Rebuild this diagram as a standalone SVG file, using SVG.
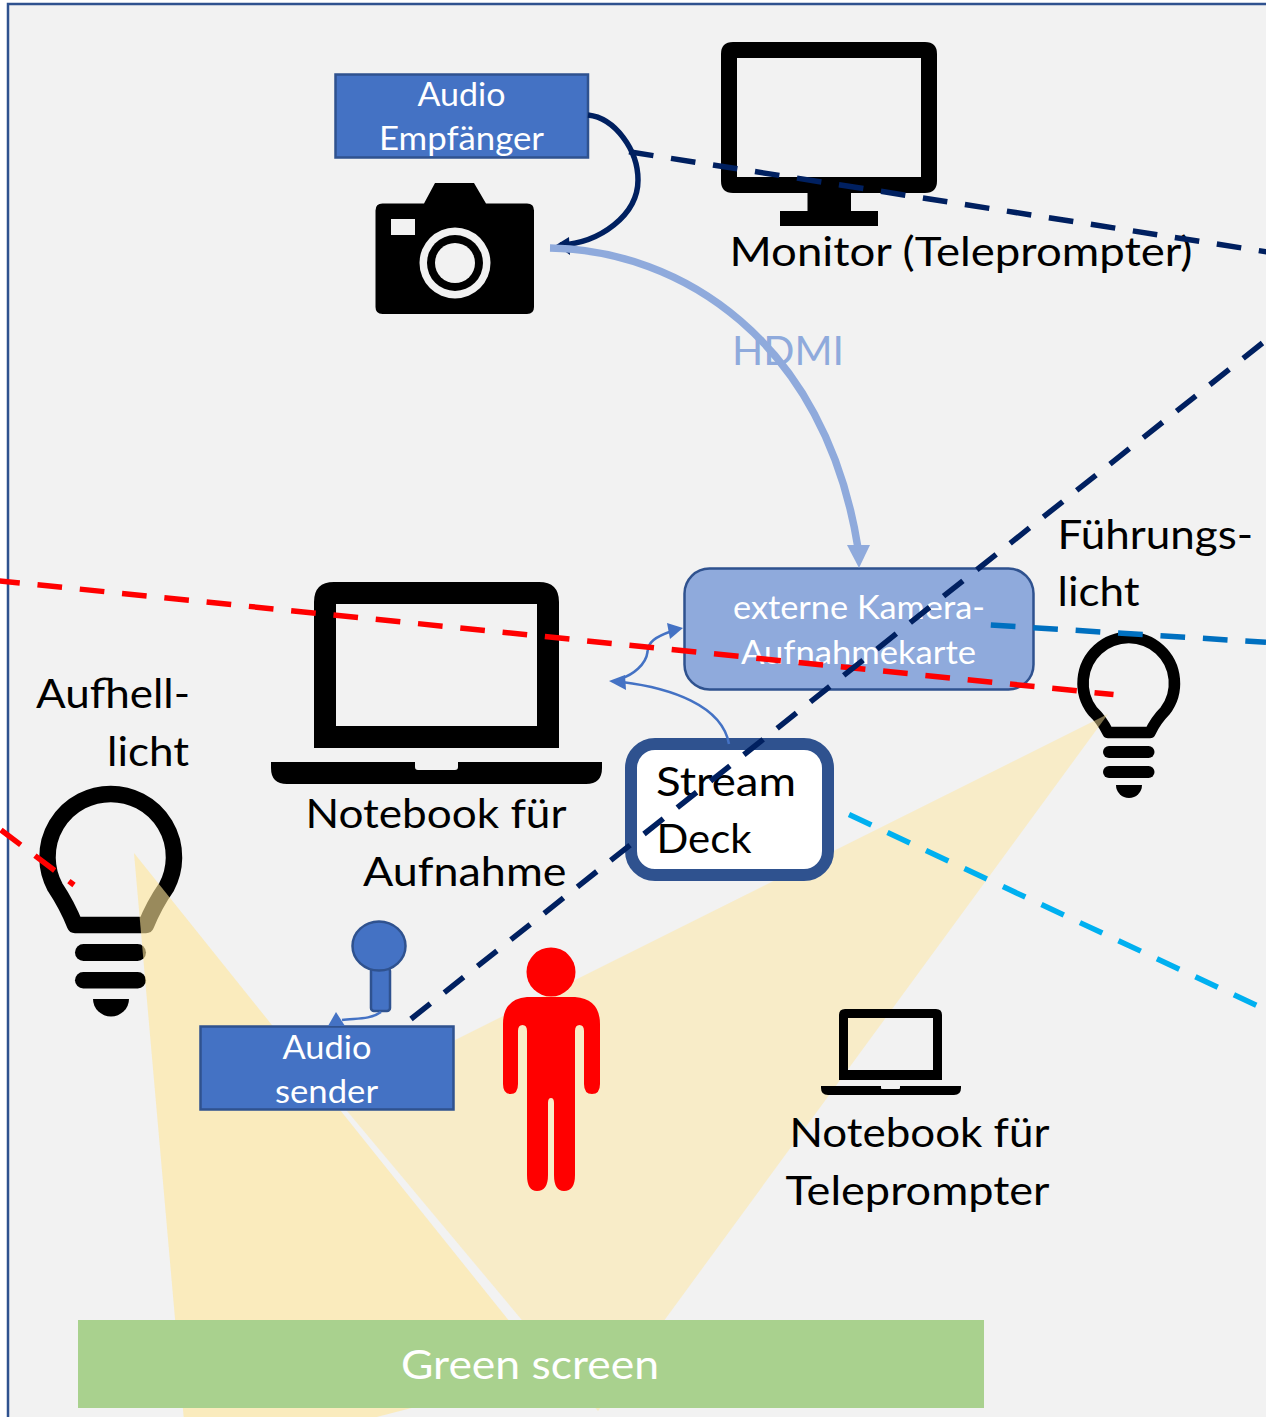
<svg xmlns="http://www.w3.org/2000/svg" width="1266" height="1417" viewBox="0 0 1266 1417">
<style>
text{font-family:"Lato","Carlito","Liberation Sans",sans-serif;fill:#000;font-size:40px}
.sm{font-size:33px;fill:#fff}
.box{fill:#4472C4;stroke:#2F528F;stroke-width:2.5}
.dash{fill:none;stroke-width:5.5;stroke-dasharray:24.7 17.8}
.thin{fill:none;stroke:#4472C4;stroke-width:2.5}
.bulb{fill:none;stroke:#000;stroke-linejoin:round}
</style>
<rect x="8" y="4" width="1300" height="1460" fill="#F2F2F2" stroke="#2F528F" stroke-width="2.500"/>
<g id="bulb-aufhell">
<path class="bulb" stroke-width="16.500" d="M82,925 L146,925 Q154,905 166.500,887 A63.250,63.250 0 1 0 55,887 Q67,905 75,925 Z"/>
<rect x="75" y="944" width="71" height="17" rx="8.500"/><rect x="75" y="972" width="71" height="16.500" rx="8.250"/>
<path d="M93,999 H129 A18,17.500 0 0 1 93,999 Z"/>
</g>
<g id="bulb-fuehrung">
<path class="bulb" stroke-width="11.500" d="M1108,732.500 H1150 Q1156,720 1165,711 A45.700,45.700 0 1 0 1092.500,711 Q1102,720 1108,732.500 Z"/>
<rect x="1103" y="746" width="51.500" height="12" rx="6"/><rect x="1103" y="766" width="51.500" height="12" rx="6"/>
<path d="M1116,785 H1142 A13,13 0 0 1 1116,785 Z"/>
</g>
<g id="lichtkegel">
<polygon points="134,853 550,1372 188,1466" fill="#FFE699" fill-opacity="0.6"/>
<polygon points="1108,714 337,1099 598,1411" fill="#FFE699" fill-opacity="0.47"/>
</g>
<g id="green-screen"><rect x="78" y="1320" width="906" height="88" fill="#A9D18E"/>
<text x="401" y="1379" textLength="258" lengthAdjust="spacingAndGlyphs" style="fill:#fff">Green screen</text></g>
<g id="audio-empfaenger"><rect class="box" x="335.500" y="74.500" width="252.500" height="83"/>
<text class="sm" x="417.500" y="106" textLength="88" lengthAdjust="spacingAndGlyphs">Audio</text>
<text class="sm" x="379" y="150" textLength="165" lengthAdjust="spacingAndGlyphs">Empfänger</text></g>
<g id="kamera">
<path d="M382.500,203.500 H424 L435,183 H474 L486,203.500 H527 Q534,203.500 534,210.500 V307 Q534,314 527,314 H382.500 Q375.500,314 375.500,307 V210.500 Q375.500,203.500 382.500,203.500 Z"/>
<rect x="391" y="219" width="24" height="16" fill="#F2F2F2"/>
<circle cx="455" cy="263" r="35.500" fill="#F2F2F2"/><circle cx="455" cy="263" r="28"/><circle cx="455" cy="263" r="20" fill="#F2F2F2"/>
</g>
<g id="monitor">
<path fill-rule="evenodd" d="M733,42 H925 Q937,42 937,54 V181 Q937,193 925,193 H851 V211 H878 V226 H780 V211 H807.500 V193 H733 Q721,193 721,181 V54 Q721,42 733,42 Z M737,58 V177 H921 V58 Z"/>
<text x="729.500" y="266" textLength="463" lengthAdjust="spacingAndGlyphs">Monitor (Teleprompter)</text>
</g>
<g id="aufnahmekarte"><rect x="684.500" y="568.500" width="349" height="121" rx="25" fill="#8FAADC" stroke="#2F528F" stroke-width="2.500"/>
<text class="sm" x="733" y="619" textLength="252" lengthAdjust="spacingAndGlyphs">externe Kamera-</text>
<text class="sm" x="741" y="664" textLength="235" lengthAdjust="spacingAndGlyphs">Aufnahmekarte</text></g>
<g id="notebook-aufnahme">
<path fill-rule="evenodd" d="M334,582 H539 Q559,582 559,602 V748 H314 V602 Q314,582 334,582 Z M336,604 V726 H537 V604 Z"/>
<path d="M271,762 H415 V767 Q415,770 418,770 H455 Q458,770 458,767 V762 H602 V768 Q602,784 586,784 H287 Q271,784 271,768 Z"/>
<text x="305.500" y="828" textLength="261" lengthAdjust="spacingAndGlyphs">Notebook für</text>
<text x="363" y="886" textLength="203.500" lengthAdjust="spacingAndGlyphs">Aufnahme</text>
</g>
<g id="stream-deck"><rect x="631" y="744" width="197" height="131" rx="24" fill="#fff" stroke="#2F528F" stroke-width="12"/>
<text x="656" y="796" textLength="140" lengthAdjust="spacingAndGlyphs">Stream</text>
<text x="656.500" y="853" textLength="95" lengthAdjust="spacingAndGlyphs">Deck</text></g>
<g id="fuehrungslicht-text">
<text x="1057.500" y="549" textLength="195.500" lengthAdjust="spacingAndGlyphs">Führungs-</text>
<text x="1057.500" y="606" textLength="82" lengthAdjust="spacingAndGlyphs">licht</text></g>
<g id="aufhelllicht-text">
<text x="36" y="708" textLength="154" lengthAdjust="spacingAndGlyphs">Aufhell-</text>
<text x="107" y="766" textLength="82" lengthAdjust="spacingAndGlyphs">licht</text></g>
<g id="mikrofon">
<rect x="371" y="968" width="19" height="43" rx="3" class="box"/>
<ellipse cx="379" cy="946" rx="26.500" ry="24.500" class="box"/>
</g>
<g id="audio-sender"><rect class="box" x="200.500" y="1026.500" width="253" height="83"/>
<text class="sm" x="282.500" y="1059" textLength="89" lengthAdjust="spacingAndGlyphs">Audio</text>
<text class="sm" x="275" y="1103" textLength="103" lengthAdjust="spacingAndGlyphs">sender</text></g>
<g id="person" fill="#F00">
<circle cx="551" cy="972" r="24.500"/>
<path d="M527,997 H575 Q600,999 600,1024 V1084 Q600,1094 592,1094 Q584,1094 584,1084 V1031 Q584,1025 579.500,1025 Q575,1025 575,1031 V1175 Q575,1191 564,1191 Q554,1191 554,1175 V1103 Q554,1098 551,1098 Q548,1098 548,1103 V1175 Q548,1191 537,1191 Q527,1191 527,1175 V1031 Q527,1025 522.500,1025 Q518,1025 518,1031 V1084 Q518,1094 510.500,1094 Q503,1094 503,1084 V1024 Q503,999 527,997 Z"/>
</g>
<g id="notebook-teleprompter">
<path fill-rule="evenodd" d="M845,1009 H936 Q942,1009 942,1015 V1080 H839 V1015 Q839,1009 845,1009 Z M848,1018 V1070 H933 V1018 Z"/>
<path d="M821,1086 H881 V1088 Q881,1089 882,1089 H899 Q900,1089 900,1088 V1086 H961 V1088 Q961,1095 954,1095 H828 Q821,1095 821,1088 Z"/>
<text x="789.500" y="1147" textLength="260" lengthAdjust="spacingAndGlyphs">Notebook für</text>
<text x="785.500" y="1205" textLength="264" lengthAdjust="spacingAndGlyphs">Teleprompter</text>
</g>
<g id="connectors">
<path d="M588,115 C615,118 638,150 638,180 C638,215 600,243 560,245" fill="none" stroke="#002060" stroke-width="5.500"/>
<polygon points="556,245 569,237 570,255" fill="#002060"/>
<text x="732" y="365" textLength="112" lengthAdjust="spacingAndGlyphs" style="fill:#8FAADC">HDMI</text>
<path d="M550,248 C680,250 825,340 858,548" fill="none" stroke="#8FAADC" stroke-width="7.500"/>
<polygon points="859,568 847,545 870,545" fill="#8FAADC"/>
<path class="thin" d="M672,631 C655,637 648,642 647.500,652 C646,665 632,675 622,678"/>
<polygon points="683,628 667,623 670,639" fill="#4472C4"/>
<polygon points="609,681 625,675 626,690" fill="#4472C4"/>
<path class="thin" d="M729,744 C722,705 670,688 622,682"/>
<path class="thin" d="M381,1012 C370,1020 355,1018 342,1020"/>
<polygon points="336,1012 328,1026 345,1026" fill="#4472C4"/>
<path class="dash" stroke="#00B0F0" d="M849,814.500 L1258,1006"/>
<path class="dash" stroke="#0070C0" d="M990.800,625 L1266,642.300"/>
<path class="dash" stroke="#F00" d="M-4.800,580.500 L1113.500,694.600"/>
<path class="dash" stroke="#F00" d="M1,830 L74,885"/>
<path class="dash" stroke="#002060" d="M629,151.800 L1270,252.400"/>
<path class="dash" stroke="#002060" d="M411,1019 L1270,337"/>
</g>
</svg>
